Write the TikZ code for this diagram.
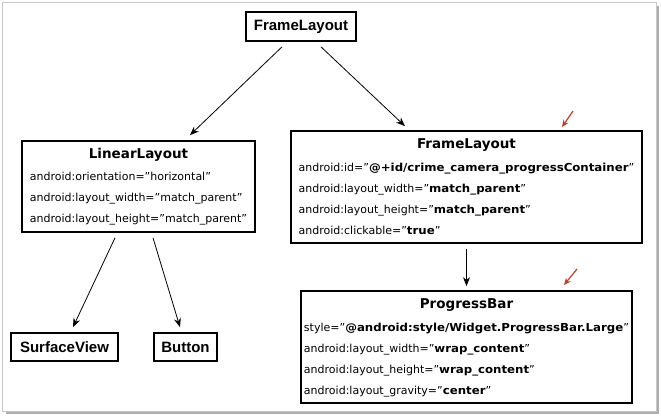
\documentclass[tikz,border=0pt]{standalone}
\usepackage{fontspec}
\setmainfont{DejaVu Sans}
\newfontfamily\arialf{Liberation Sans}
\newfontfamily\wideb{DejaVu Sans}[FakeStretch=1.07]
\usetikzlibrary{arrows.meta}
\definecolor{framegray}{RGB}{200,200,200}
\definecolor{shadowgray}{RGB}{120,120,120}
\definecolor{annored}{RGB}{190,60,40}
\newcommand{\bodyf}{\fontsize{11}{21}\selectfont}
\newcommand{\titlef}{\fontsize{13.5}{15}\selectfont\bfseries}
\newcommand{\smalltitlef}{\arialf\fontsize{15}{18}\selectfont\bfseries}
\newcommand{\qq}{\symbol{34}}
\newcommand{\bv}[1]{{\wideb\bfseries #1}}
\begin{document}
\begin{tikzpicture}[x=1pt,y=-1pt,
  box/.style={draw=black, line width=1.7pt, fill=white, inner sep=0pt, align=center},
  arr/.style={-{Stealth[length=9pt,width=7pt]}, line width=0.8pt},
  redarr/.style={-{Stealth[length=7pt,width=6pt]}, draw=annored, line width=1.2pt}]
\useasboundingbox (0,0) rectangle (661,418);
% outer frame with shadow
\fill[shadowgray!60] (6,411) rectangle (659,414);
\fill[shadowgray!60] (656,6) rectangle (659,414);
\draw[framegray, line width=1pt] (2,2) rectangle (656,411);

\node[box, minimum width=110, minimum height=29] (root) at (301,26.5) {\smalltitlef FrameLayout};

\node[box, minimum width=233, minimum height=91] (ll) at (138.5,186.5)
 {\bodyf\begin{tabular}{@{}l@{}}
  \multicolumn{1}{@{}c@{}}{\titlef LinearLayout}\\[1pt]
  android:orientation=\qq horizontal\qq\\
  android:layout\_width=\qq match\_parent\qq\\
  android:layout\_height=\qq match\_parent\qq
 \end{tabular}};

\node[box, minimum width=351, minimum height=112] (fl) at (466.5,187)
 {\bodyf\begin{tabular}{@{}l@{}}
  \multicolumn{1}{@{}c@{}}{\titlef FrameLayout}\\[2pt]
  android:id=\qq\bv{@+id/crime\_camera\_progressContainer}\qq\\
  android:layout\_width=\qq\bv{match\_parent}\qq\\
  android:layout\_height=\qq\bv{match\_parent}\qq\\
  android:clickable=\qq\bv{true}\qq
 \end{tabular}};

\node[box, minimum width=331, minimum height=112] (pb) at (466.5,347)
 {\bodyf\begin{tabular}{@{}l@{}}
  \multicolumn{1}{@{}c@{}}{\titlef ProgressBar}\\[2pt]
  style=\qq\bv{@android:style/Widget.ProgressBar.Large}\qq\\
  android:layout\_width=\qq\bv{wrap\_content}\qq\\
  android:layout\_height=\qq\bv{wrap\_content}\qq\\
  android:layout\_gravity=\qq\bv{center}\qq
 \end{tabular}};

\node[box, minimum width=107, minimum height=28] (sv) at (64.5,347) {\smalltitlef SurfaceView};
\node[box, minimum width=63, minimum height=28] (btn) at (185.5,347) {\smalltitlef Button};

\draw[arr] ([xshift=-19pt,yshift=-5pt]root.south) -- ([xshift=51.5pt,yshift=5pt]ll.north);
\draw[arr] ([xshift=20pt,yshift=-5pt]root.south) -- ([xshift=-61.5pt,yshift=4pt]fl.north);
\draw[arr] ([xshift=-23.5pt,yshift=-5pt]ll.south) -- ([xshift=8.5pt,yshift=5pt]sv.north);
\draw[arr] ([xshift=14.5pt,yshift=-5pt]ll.south) -- ([xshift=-5.5pt,yshift=5pt]btn.north);
\draw[arr] ([yshift=-5pt]fl.south) -- ([yshift=4pt]pb.north);

\coordinate (r1s) at (573,111);
\coordinate (r1e) at (562,127);
\coordinate (r2s) at (577,269);
\coordinate (r2e) at (564,285);
\draw[redarr] (r1s) -- (r1e);
\draw[redarr] (r2s) -- (r2e);
\end{tikzpicture}
\end{document}
